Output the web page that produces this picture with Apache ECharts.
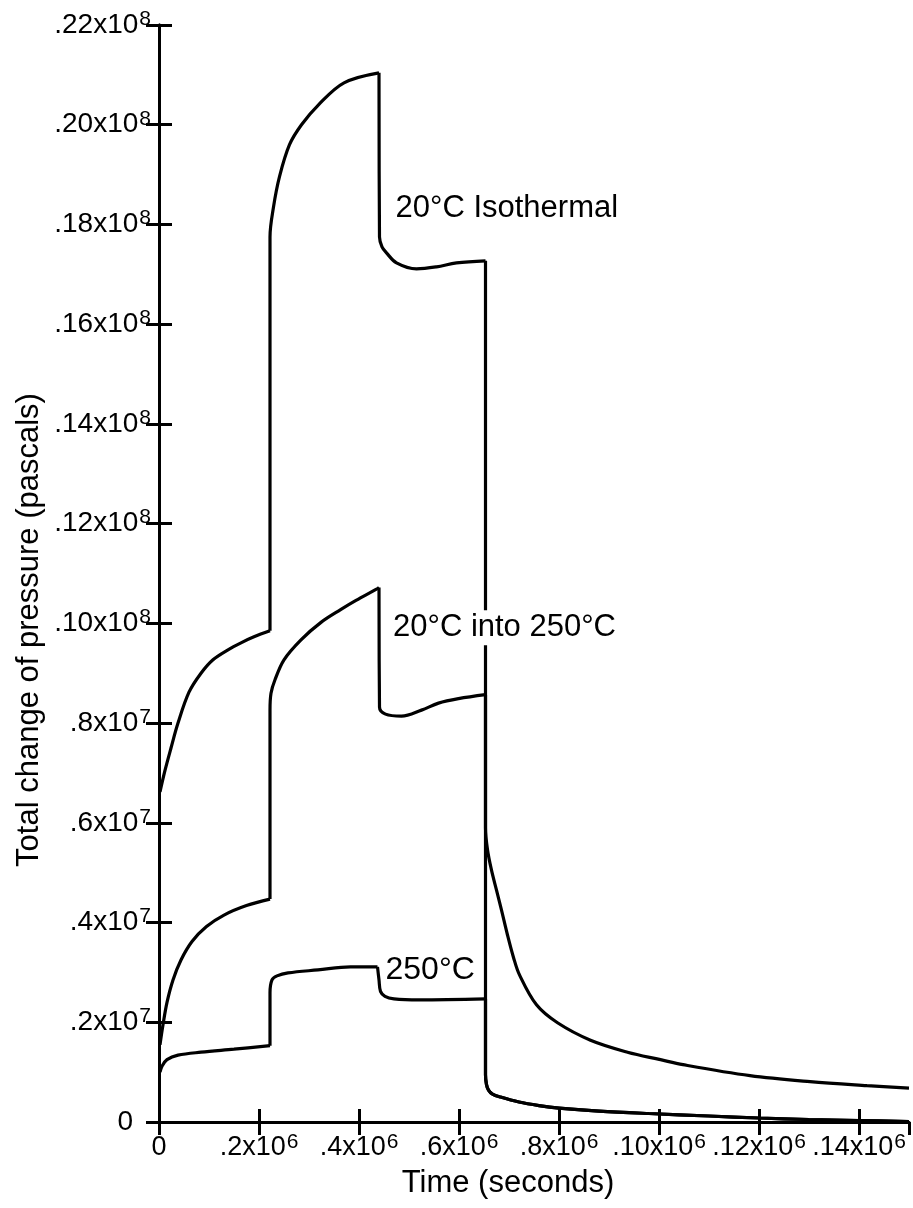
<!DOCTYPE html>
<html>
<head>
<meta charset="utf-8">
<script src="https://cdn.jsdelivr.net/npm/echarts@6/dist/echarts.min.js"></script>
<style>
  html, body { margin: 0; padding: 0; background: #fff; }
  #chart { width: 913px; height: 1208px; }
</style>
</head>
<body>
<div id="chart"></div>
<script>
// Time in units of 10^6 s, pressure change in MPa (10^6 Pa)

// 20°C isothermal run
const isoTime = [0.002, 0.012, 0.024, 0.038, 0.060, 0.084, 0.108, 0.138, 0.164, 0.190, 0.222,
  0.222, 0.229, 0.241, 0.261, 0.285, 0.319, 0.370, 0.440,
  0.441, 0.446, 0.455, 0.475, 0.515, 0.555, 0.595, 0.653];
const isoPressure = [6.62, 7.05, 7.50, 8.00, 8.62, 9.00, 9.27, 9.47, 9.61, 9.73, 9.85,
  17.75, 18.35, 18.96, 19.60, 20.00, 20.40, 20.84, 21.04,
  17.75, 17.55, 17.43, 17.23, 17.11, 17.15, 17.23, 17.27];

// 20°C into 250°C run
const mixTime = [0.002, 0.008, 0.016, 0.028, 0.044, 0.066, 0.095, 0.130, 0.175, 0.222,
  0.222, 0.224, 0.232, 0.250, 0.284, 0.324, 0.364, 0.394, 0.434, 0.440,
  0.441, 0.453, 0.485, 0.525, 0.559, 0.599, 0.653];
const mixPressure = [1.55, 1.95, 2.40, 2.85, 3.25, 3.62, 3.92, 4.15, 4.34, 4.47,
  8.26, 8.60, 8.87, 9.27, 9.67, 10.02, 10.28, 10.46, 10.68, 10.72,
  8.32, 8.18, 8.14, 8.26, 8.40, 8.49, 8.57];

// 250°C run
const hotTime = [0.002, 0.006, 0.016, 0.038, 0.084, 0.150, 0.222,
  0.222, 0.226, 0.236, 0.258, 0.318, 0.383, 0.437,
  0.440, 0.443, 0.452, 0.470, 0.520, 0.653];
const hotPressure = [1.00, 1.12, 1.25, 1.34, 1.40, 1.46, 1.53,
  2.59, 2.85, 2.93, 2.99, 3.05, 3.11, 3.11,
  2.85, 2.62, 2.52, 2.47, 2.45, 2.47];

// Relaxation after unloading: slow branch (20°C into 250°C)
const slowDecayTime = [0.653, 0.657, 0.665, 0.675, 0.685, 0.697, 0.709, 0.721, 0.755, 0.797,
  0.863, 0.937, 1.003, 1.048, 1.182, 1.302, 1.416, 1.500];
const slowDecayPressure = [5.90, 5.46, 5.05, 4.65, 4.25, 3.75, 3.30, 2.95, 2.35, 1.99,
  1.64, 1.40, 1.25, 1.15, 0.93, 0.81, 0.73, 0.68];

// Relaxation after unloading: fast branch (isothermal and 250°C runs)
const fastDecayTime = [0.653, 0.655, 0.659, 0.667, 0.683, 0.720, 0.760, 0.800, 0.880, 0.980,
  1.100, 1.200, 1.300, 1.400, 1.500];
const fastDecayPressure = [0.95, 0.75, 0.64, 0.56, 0.50, 0.40, 0.33, 0.28, 0.22, 0.17,
  0.12, 0.08, 0.05, 0.03, 0.01];

// Sharp corners (indices into each run's full record): load steps and unloading
const isoCorners = [10, 18, 26];
const mixCorners = [9, 19, 26];
const hotCorners = [6, 13, 19];

// Tick labels (mantissa and power of ten)
const xTickBase = ['0', '.2', '.4', '.6', '.8', '.10', '.12', '.14'];
const xTickExp = ['', '6', '6', '6', '6', '6', '6', '6'];
const yTickBase = ['0', '.2', '.4', '.6', '.8', '.10', '.12', '.14', '.16', '.18', '.20', '.22'];
const yTickExp = ['', '7', '7', '7', '7', '8', '8', '8', '8', '8', '8', '8'];

const FONT = '"Liberation Sans", Arial, sans-serif';

function pairs(t, p) {
  const out = [];
  for (let i = 0; i < t.length; i++) out.push([t[i], p[i]]);
  return out;
}

// Split a run at its sharp corners so each piece is smoothed on its own
function pieces(points, corners) {
  const cuts = [0].concat(corners, [points.length - 1]);
  const out = [];
  for (let k = 0; k < cuts.length - 1; k++) out.push(points.slice(cuts[k], cuts[k + 1] + 1));
  return out;
}

function tickLabel(base, exp) {
  if (!exp) return '{z|' + base + '}';
  return '{b|' + base + 'x10}{s|' + exp + '}';
}

const chart = echarts.init(document.getElementById('chart'), null, { renderer: 'canvas' });

const axisLine = { show: true, lineStyle: { color: '#000', width: 3 } };
const axisTick = { show: true, inside: true, length: 13, lineStyle: { color: '#000', width: 3 } };

const xRich = {
  b: { fontFamily: FONT, fontSize: 27, color: '#000', lineHeight: 28 },
  s: { fontFamily: FONT, fontSize: 21, color: '#000', lineHeight: 20, padding: [0, 0, 12, 1] },
  z: { fontFamily: FONT, fontSize: 27, color: '#000', lineHeight: 28 }
};
const yRich = {
  b: { fontFamily: FONT, fontSize: 28, color: '#000', lineHeight: 30 },
  s: { fontFamily: FONT, fontSize: 21, color: '#000', lineHeight: 20, padding: [0, 0, 12, 1] },
  z: { fontFamily: FONT, fontSize: 28, color: '#000', lineHeight: 30, padding: [0, 18, 0, 0] }
};

const lineStyle = { color: '#000', width: 3.2 };

function runSeries(name, points, corners, labelCfg) {
  return pieces(points, corners).map(function (seg, k) {
    const s = {
      name: name, type: 'line', data: seg, smooth: 0.35, showSymbol: false,
      silent: true, lineStyle: lineStyle, z: 3
    };
    if (k === 0 && labelCfg) s.markPoint = labelCfg;
    return s;
  });
}

function curveLabel(text, coord, size, boxed) {
  const label = {
    show: true, position: 'right', distance: 0, color: '#000',
    fontFamily: FONT, fontSize: size, formatter: '{b}'
  };
  if (boxed) { label.backgroundColor = '#fff'; label.padding = [2, 1]; }
  return {
    symbol: 'circle', symbolSize: 0, itemStyle: { color: 'transparent' },
    label: label, z: 5,
    data: [{ name: text, coord: coord }]
  };
}

const isoPoints = pairs(isoTime, isoPressure).concat(pairs(fastDecayTime, fastDecayPressure));
const mixPoints = pairs(mixTime, mixPressure).concat(pairs(slowDecayTime, slowDecayPressure));
const hotPoints = pairs(hotTime, hotPressure).concat(pairs(fastDecayTime, fastDecayPressure));

const option = {
  animation: false,
  backgroundColor: '#fff',
  grid: { left: 159, right: 4, top: 25, bottom: 86 },
  xAxis: [
    {
      type: 'value', position: 'bottom', min: 0, max: 1.5, interval: 0.2,
      axisLine, axisTick, splitLine: { show: false },
      axisLabel: {
        margin: 12, showMaxLabel: false,
        formatter: function (v) {
          const i = Math.round(v / 0.2);
          if (Math.abs(v - i * 0.2) > 1e-6 || i >= xTickBase.length) return '';
          return tickLabel(xTickBase[i], xTickExp[i]);
        },
        rich: xRich
      }
    },
    {
      type: 'value', position: 'top', min: 0, max: 1.5, interval: 0.2,
      axisLine, axisTick, splitLine: { show: false }, axisLabel: { show: false }
    }
  ],
  yAxis: [
    {
      type: 'value', position: 'left', min: 0, max: 22, interval: 2,
      axisLine, axisTick, splitLine: { show: false },
      axisLabel: {
        margin: 8,
        formatter: function (v) {
          const i = Math.round(v / 2);
          if (Math.abs(v - i * 2) > 1e-6 || i >= yTickBase.length) return '';
          return tickLabel(yTickBase[i], yTickExp[i]);
        },
        rich: yRich
      }
    },
    {
      type: 'value', position: 'right', min: 0, max: 22, interval: 2,
      axisLine, axisTick, splitLine: { show: false }, axisLabel: { show: false }
    }
  ],
  graphic: [
    {
      type: 'text', x: 29, y: 630, rotation: Math.PI / 2,
      style: {
        text: 'Total change of pressure (pascals)', font: '31px ' + FONT, fill: '#000',
        align: 'center', verticalAlign: 'middle', textAlign: 'center', textVerticalAlign: 'middle'
      }
    },
    {
      type: 'text', x: 508, y: 1183,
      style: {
        text: 'Time (seconds)', font: '31px ' + FONT, fill: '#000',
        align: 'center', verticalAlign: 'middle', textAlign: 'center', textVerticalAlign: 'middle'
      }
    }
  ],
  series: [].concat(
    runSeries('20°C Isothermal', isoPoints, isoCorners, curveLabel('20°C Isothermal', [0.473, 18.33], 31, false)),
    runSeries('20°C into 250°C', mixPoints, mixCorners, curveLabel('20°C into 250°C', [0.466, 9.91], 31, true)),
    runSeries('250°C', hotPoints, hotCorners, curveLabel('250°C', [0.453, 3.05], 32, false))
  )
};

chart.setOption(option);
</script>
</body>
</html>
